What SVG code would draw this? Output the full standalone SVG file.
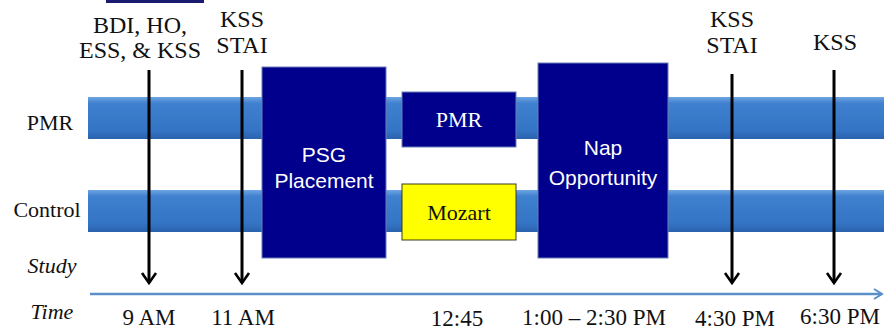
<svg xmlns="http://www.w3.org/2000/svg" width="884" height="331" viewBox="0 0 884 331">
<defs>
<linearGradient id="bar" x1="0" y1="0" x2="0" y2="1">
<stop offset="0" stop-color="#6fa6e2"/>
<stop offset="0.15" stop-color="#3f80cf"/>
<stop offset="0.8" stop-color="#3474c4"/>
<stop offset="1" stop-color="#2a62ad"/>
</linearGradient>
<marker id="ah" viewBox="0 0 20 20" refX="18" refY="10" markerWidth="20" markerHeight="20" markerUnits="userSpaceOnUse" orient="auto">
<path d="M8,3 L18,10 L8,17" fill="none" stroke="#000" stroke-width="2.6"/>
</marker>
<marker id="th" viewBox="0 0 12 12" refX="10" refY="6" markerWidth="12" markerHeight="12" markerUnits="userSpaceOnUse" orient="auto">
<path d="M2,1 L10,6 L2,11" fill="none" stroke="#5b8fc8" stroke-width="2"/>
</marker>
<style>
.lbl{font-family:'Liberation Serif','DejaVu Serif',serif;font-size:24px;fill:#111;text-anchor:middle}
.row{font-family:'Liberation Serif','DejaVu Serif',serif;font-size:22px;fill:#111;text-anchor:middle}
.tm{font-family:'Liberation Serif','DejaVu Serif',serif;font-size:23px;fill:#111;text-anchor:middle}
.it{font-family:'Liberation Serif','DejaVu Serif',serif;font-size:22px;font-style:italic;fill:#111;text-anchor:middle}
.box{fill:#00008c;stroke:#6a7fb8;stroke-width:1}
.wt{font-family:'Liberation Sans',Arial,sans-serif;font-size:21px;fill:#fff;text-anchor:middle}
.ws{font-family:'Liberation Serif','DejaVu Serif',serif;font-size:22px;fill:#fff;text-anchor:middle}
.arr{stroke:#000;stroke-width:3;fill:none}
</style>
</defs>
<rect x="106" y="0" width="98" height="3" fill="#1a1a6e"/>
<g id="bars">
<rect x="88" y="97" width="796" height="42" fill="url(#bar)"/>
<rect x="88" y="190" width="796" height="42" fill="url(#bar)"/>
</g>
<g id="row-labels">
<text class="row" x="50" y="130">PMR</text>
<text class="row" x="47" y="217">Control</text>
</g>
<g id="psg">
<rect class="box" x="262" y="67" width="124" height="191"/>
<text class="wt" x="324" y="162">PSG</text>
<text class="wt" x="324" y="188">Placement</text>
</g>
<g id="pmr-box">
<rect class="box" x="402" y="92" width="114" height="55"/>
<text class="ws" x="459" y="127">PMR</text>
</g>
<g id="mozart">
<rect x="402" y="184" width="114" height="56" fill="#ffff00" stroke="#3a3a20" stroke-width="1"/>
<text class="row" x="459" y="220">Mozart</text>
</g>
<g id="nap">
<rect class="box" x="538" y="63" width="130" height="195"/>
<text class="wt" x="603" y="155">Nap</text>
<text class="wt" x="603" y="185">Opportunity</text>
</g>
<g id="top-labels">
<text class="lbl" x="140" y="33">BDI, HO,</text>
<text class="lbl" x="140" y="58">ESS, &amp; KSS</text>
<text class="lbl" x="242" y="27">KSS</text>
<text class="lbl" x="242" y="53">STAI</text>
<text class="lbl" x="732" y="27">KSS</text>
<text class="lbl" x="732" y="53">STAI</text>
<text class="lbl" x="835" y="50">KSS</text>
</g>
<g id="connectors">
<line class="arr" x1="149" y1="70" x2="149" y2="283" marker-end="url(#ah)"/>
<line class="arr" x1="242" y1="70" x2="242" y2="283" marker-end="url(#ah)"/>
<line class="arr" x1="732" y1="74" x2="732" y2="283" marker-end="url(#ah)"/>
<line class="arr" x1="834" y1="70" x2="834" y2="283" marker-end="url(#ah)"/>
<line x1="90" y1="294" x2="882" y2="294" stroke="#5b8fc8" stroke-width="2.5" marker-end="url(#th)"/>
</g>
<g id="time-labels">
<text class="it" x="52" y="273">Study</text>
<text class="it" x="52" y="319">Time</text>
<text class="tm" x="149" y="325">9 AM</text>
<text class="tm" x="243" y="325">11 AM</text>
<text class="tm" x="457" y="326">12:45</text>
<text class="tm" x="594" y="325">1:00 – 2:30 PM</text>
<text class="tm" x="735" y="326">4:30 PM</text>
<text class="tm" x="840" y="324">6:30 PM</text>
</g>
</svg>
